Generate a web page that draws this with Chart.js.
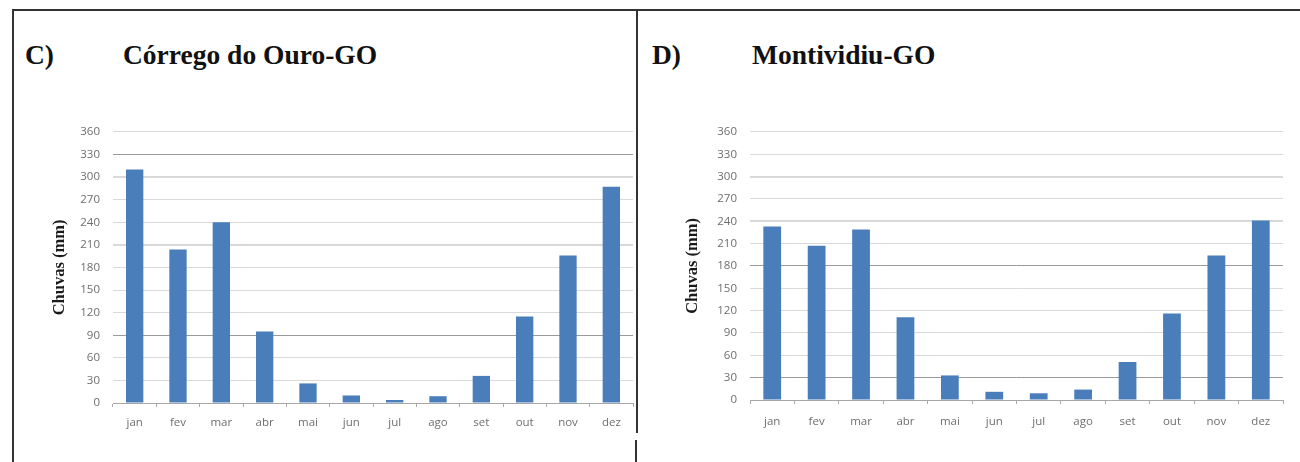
<!DOCTYPE html>
<html>
<head>
<meta charset="utf-8">
<script src="https://cdn.jsdelivr.net/npm/chart.js@4.4.1/dist/chart.umd.min.js"></script>
<style>
  html, body { margin: 0; padding: 0; background: #fff; }
  body { width: 1300px; height: 462px; position: relative; overflow: hidden; }
  .rule { position: absolute; background: #333; z-index: 2; }
  .title { position: absolute; font-family: "Liberation Serif", "Times New Roman", serif;
           font-weight: bold; font-size: 27.5px; line-height: 28px; color: #111; white-space: nowrap; }
  canvas { position: absolute; }
</style>
</head>
<body>
<div class="rule" style="left:12px; top:9px; width:1288px; height:2px;"></div>
<div class="rule" style="left:12px; top:9px; width:2px; height:453px;"></div>
<div class="rule" style="left:636px; top:9px; width:2px; height:424px;"></div>
<div class="rule" style="left:635px; top:440px; width:2px; height:22px;"></div>

<div class="title" style="left:25px; top:41px;">C)</div>
<div class="title" style="left:123px; top:41px;">Córrego do Ouro-GO</div>
<div class="title" style="left:652px; top:41px;">D)</div>
<div class="title" style="left:752px; top:41px;">Montividiu-GO</div>

<canvas id="chartC" width="598" height="326" style="left:40px; top:112px;"></canvas>
<canvas id="chartD" width="615" height="323" style="left:673px; top:112px;"></canvas>

<script>
// --- Data ---
const months = ['jan', 'fev', 'mar', 'abr', 'mai', 'jun', 'jul', 'ago', 'set', 'out', 'nov', 'dez'];

// Córrego do Ouro-GO (mm)
const chuvasCorrego = [310, 204, 240, 95, 26, 10, 4, 9, 36, 115, 196, 287];
// Montividiu-GO (mm)
const chuvasMontividiu = [233, 207, 229, 111, 33, 11, 9, 14, 51, 116, 194, 241];

const yMin = 0;
const yMax = 360;
const yStep = 30;
const yTitle = 'Chuvas (mm)';

// gridlines that look darker / thicker in the scanned figure
const gridDarkC = [330, 90];
const gridThickC = [300, 210];
const gridDarkD = [180, 30];
const gridThickD = [300, 240];

// --- Charts ---
const barColor = '#4a7ebb';
const tickColor = '#6e6e6e';

function makeChart(id, values, cfg) {
    const ctx = document.getElementById(id).getContext('2d');
    return new Chart(ctx, {
        type: 'bar',
        data: {
            labels: months,
            datasets: [{
                data: values,
                backgroundColor: barColor,
                borderWidth: 0,
                categoryPercentage: 1.0,
                barPercentage: 0.4
            }]
        },
        options: {
            responsive: false,
            animation: false,
            devicePixelRatio: 1,
            layout: { padding: { top: 15, right: cfg.padRight, left: 0, bottom: 0 } },
            plugins: {
                legend: { display: false },
                tooltip: { enabled: false }
            },
            scales: {
                x: {
                    type: 'category',
                    afterFit: s => { s.height = 35; },
                    grid: {
                        display: true,
                        offset: true,
                        drawOnChartArea: false,
                        drawTicks: true,
                        tickLength: 4,
                        color: '#a8a8a8'
                    },
                    border: { display: true, color: '#a8a8a8', width: 1 },
                    ticks: {
                        color: tickColor,
                        padding: cfg.xPad,
                        maxRotation: 0,
                        font: { family: 'Open Sans', size: 11.5 }
                    }
                },
                y: {
                    min: yMin,
                    max: yMax,
                    afterFit: s => { s.width = cfg.yWidth; },
                    ticks: {
                        stepSize: yStep,
                        color: tickColor,
                        padding: 13,
                        font: { family: 'Open Sans', size: 11.5 }
                    },
                    grid: {
                        drawTicks: false,
                        color: c => {
                            const v = c.tick.value;
                            if (v === 0) return '#a8a8a8';
                            if (cfg.dark.includes(v)) return '#9a9a9a';
                            return '#d9d9d9';
                        },
                        lineWidth: c => cfg.thick.includes(c.tick.value) ? 2 : 1
                    },
                    border: { display: false },
                    title: {
                        display: true,
                        text: yTitle,
                        color: '#1a1a1a',
                        padding: { top: 10, bottom: 4 },
                        font: { family: 'Liberation Serif', size: 16.5, weight: 'bold' }
                    }
                }
            }
        }
    });
}

makeChart('chartC', chuvasCorrego, { yWidth: 73, padRight: 5, xPad: 9, dark: gridDarkC, thick: gridThickC });
makeChart('chartD', chuvasMontividiu, { yWidth: 77, padRight: 5, xPad: 11, dark: gridDarkD, thick: gridThickD });
</script>
</body>
</html>
